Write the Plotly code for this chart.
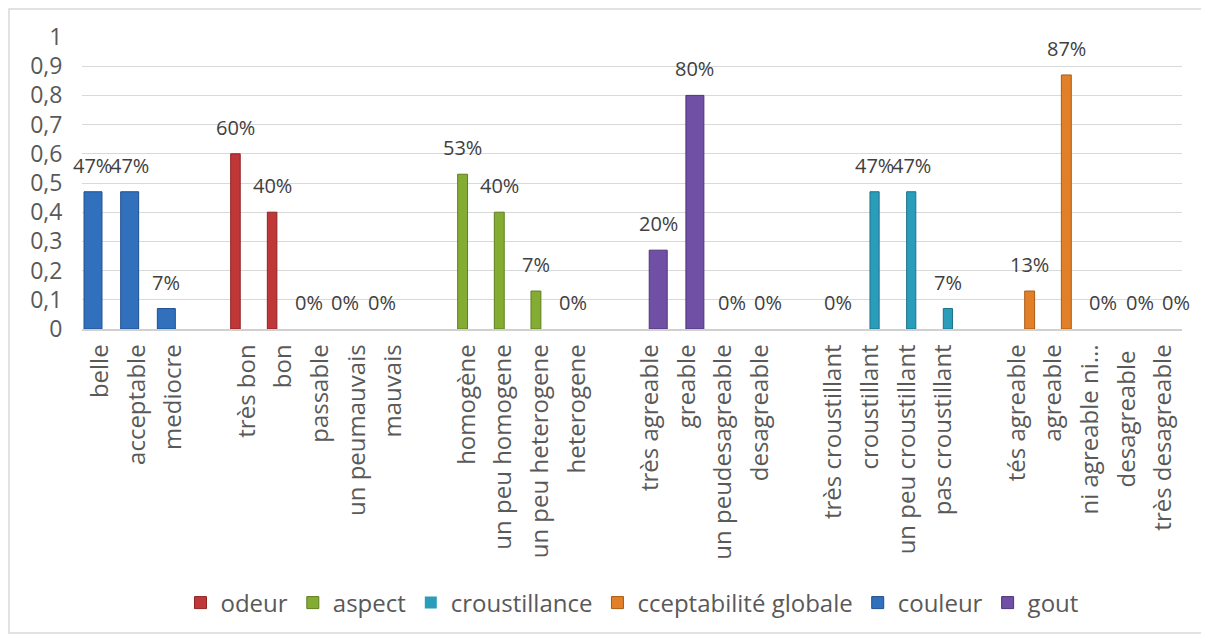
import plotly.graph_objects as go

# ---------------- data ----------------
couleur_cats = ["belle", "acceptable", "mediocre"]
couleur_vals = [0.47, 0.47, 0.07]
couleur_lbls = ["47%", "47%", "7%"]

odeur_cats = ["très bon", "bon", "passable", "un peumauvais", "mauvais"]
odeur_vals = [0.60, 0.40, 0, 0, 0]
odeur_lbls = ["60%", "40%", "0%", "0%", "0%"]

aspect_cats = ["homogène", "un peu homogene", "un peu heterogene", "heterogene"]
aspect_vals = [0.53, 0.40, 0.13, 0]
aspect_lbls = ["53%", "40%", "7%", "0%"]

gout_cats = ["très agreable", "greable", "un peudesagreable", "desagreable"]
gout_vals = [0.27, 0.80, 0, 0]
gout_lbls = ["20%", "80%", "0%", "0%"]

crou_cats = ["très croustillant", "croustillant", "un peu croustillant", "pas croustillant"]
crou_vals = [0, 0.47, 0.47, 0.07]
crou_lbls = ["0%", "47%", "47%", "7%"]

acc_cats = ["tés agreable", "agreable", "ni agreable ni...", "desagreable ", "très desagreable"]
acc_vals = [0.13, 0.87, 0, 0, 0]
acc_lbls = ["13%", "87%", "0%", "0%", "0%"]

y_ticks = [0, 0.1, 0.2, 0.3, 0.4, 0.5, 0.6, 0.7, 0.8, 0.9, 1]
y_ticktext = ["0", "0,1", "0,2", "0,3", "0,4", "0,5", "0,6", "0,7", "0,8", "0,9", "1"]

# ---------------- layout of categories (with blank gaps) ----------------
groups = [couleur_cats, odeur_cats, aspect_cats, gout_cats, crou_cats, acc_cats]
all_cats = []
for gi, g in enumerate(groups):
    all_cats += g
    if gi < len(groups) - 1:
        all_cats.append(" " * (gi + 1))

n_slots = len(all_cats)
PAGE = 8                      # browser body margin
W, H = 1209 - PAGE, 641 - PAGE
plot_left, plot_right = 82 - PAGE, 1182 - PAGE
plot_top, plot_bottom = 37 - PAGE, 329 - PAGE
px_per_cat = (plot_right - plot_left) / n_slots
plot_w = plot_right - plot_left
plot_h = plot_bottom - plot_top

series = [
    # name, cats, vals, lbls, color, edge, offset, width
    ("odeur", odeur_cats, odeur_vals, odeur_lbls, "#C0373A", "#8E2320", -0.445, 0.26),
    ("aspect", aspect_cats, aspect_vals, aspect_lbls, "#84AC33", "#5E7F1F", -0.255, 0.27),
    ("croustillance", crou_cats, crou_vals, crou_lbls, "#2A9DBB", "#1B7188", -0.01, 0.25),
    ("cceptabilité globale", acc_cats, acc_vals, acc_lbls, "#E2802A", "#A85A14", 0.21, 0.27),
    ("couleur", couleur_cats, couleur_vals, couleur_lbls, "#3170BD", "#1F4F8E", -0.445, 0.49),
    ("gout", gout_cats, gout_vals, gout_lbls, "#7050A4", "#4F3479", -0.03, 0.49),
]

fig = go.Figure()
annotations = []
for name, cats, vals, lbls, col, edge, off, wd in series:
    fig.add_trace(go.Bar(
        x=cats, y=vals, name=name,
        offset=off, width=wd,
        marker=dict(color=col, line=dict(color=edge,
                                         width=[1 if v > 0 else 0 for v in vals])),
    ))
    for c, v, t in zip(cats, vals, lbls):
        annotations.append(dict(
            x=c, y=v, xref="x", yref="y", text=t, showarrow=False,
            yanchor="bottom", xanchor="center", yshift=11,
            xshift=(off + wd / 2) * px_per_cat,
            font=dict(family="Open Sans", size=20, color="#404040"),
        ))

# force the categorical order including gaps
fig.add_trace(go.Bar(x=all_cats, y=[None] * n_slots, showlegend=False, hoverinfo="skip"))

fig.update_layout(
    width=W, height=H, autosize=False,
    margin=dict(l=plot_left, r=W - plot_right, t=plot_top, b=H - plot_bottom),
    paper_bgcolor="white", plot_bgcolor="white",
    barmode="overlay",
    font=dict(family="Open Sans", color="#595959"),
    annotations=annotations,
    legend=dict(
        orientation="h", x=0.5, xanchor="center",
        y=(plot_bottom - (603 - PAGE)) / plot_h, yanchor="middle",
        font=dict(family="Open Sans", size=24, color="#595959"),
        traceorder="normal", itemwidth=30,
    ),
    xaxis=dict(
        categoryorder="array", categoryarray=all_cats,
        range=[-0.5, n_slots - 0.5],
        tickangle=-90, tickfont=dict(size=24, color="#595959"),
        showgrid=False, showline=True, linecolor="#D0D0D0", linewidth=1.5,
        ticks="", ticklabelstandoff=4,
    ),
    yaxis=dict(
        range=[0, 1], tickvals=y_ticks, ticktext=y_ticktext,
        tickfont=dict(size=23, color="#595959"),
        showgrid=True, gridcolor="#D9D9D9", gridwidth=1,
        zeroline=False, showline=False,
        ticks="outside", ticklen=14, tickcolor="rgba(0,0,0,0)",
    ),
    shapes=[dict(
        type="rect", xref="paper", yref="paper",
        x0=(1 - plot_left) / plot_w,
        x1=(1197 - plot_left) / plot_w,
        y0=(plot_bottom - 625) / plot_h,
        y1=(plot_bottom - 1) / plot_h,
        line=dict(color="#D9D9D9", width=1.5), layer="below",
    )],
)

fig.write_html("out.html")
